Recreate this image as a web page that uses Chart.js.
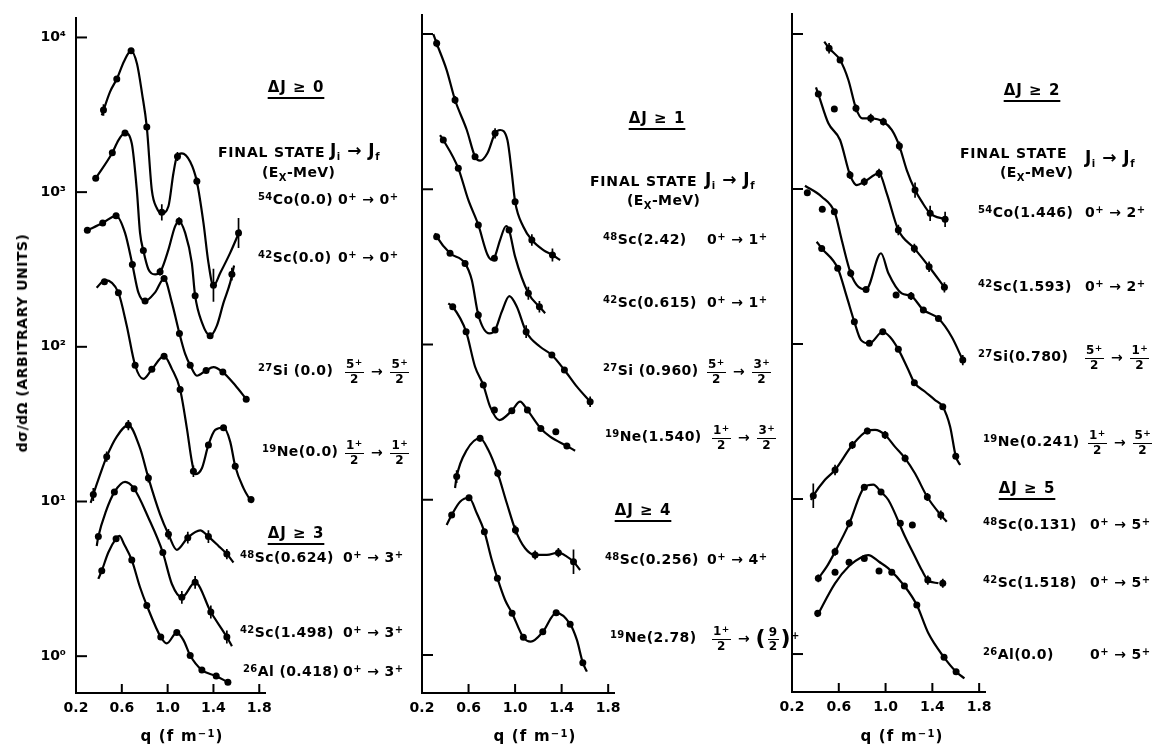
<!DOCTYPE html>
<html>
<head>
<meta charset="utf-8">
<script src="https://cdn.jsdelivr.net/npm/chart.js@4.4.1/dist/chart.umd.min.js"></script>
<style>
  body { margin: 0; background: #fff; }
  #wrap { position: relative; width: 1155px; height: 747px; overflow: hidden; background: #fff; }
  canvas { position: absolute; top: 0; }
  .lab { position: absolute; font-family: "DejaVu Sans", sans-serif; font-weight: bold; font-size: 14px; color: #000;
         white-space: nowrap; transform: translateY(-50%); letter-spacing: 0.4px; line-height: 16px; }
  .lab sup, .xt sup { font-size: 10px; position: relative; top: -0.45em; vertical-align: baseline; }
  .lab sub { font-size: 10px; position: relative; top: 0.35em; vertical-align: baseline; }
  .dj { transform: translate(-50%, -50%); font-size: 15px; letter-spacing: 1px;
        text-decoration: underline; text-decoration-thickness: 2px; text-underline-offset: 5px; }
  .fs { letter-spacing: 0.8px; }
  .jj { font-size: 17px; letter-spacing: 0.5px; }
  .fr { display: inline-flex; flex-direction: column; align-items: center; vertical-align: middle;
        font-size: 12px; line-height: 11px; margin: 0 2px; }
  .fr > span:first-child { border-bottom: 1.4px solid #000; padding: 0 1px 1px 1px; }
  .fr > span:last-child { padding-top: 1px; }
  .fr sup { font-size: 9px; top: -0.35em; }
  .par { font-size: 22px; font-weight: bold; vertical-align: middle; position: relative; top: -1px; }
  #ytitle { position: absolute; left: 22px; top: 343px; transform: translate(-50%, -50%) rotate(-90deg);
            font-family: "DejaVu Sans", sans-serif; font-weight: bold; font-size: 14px; letter-spacing: 0.5px; white-space: nowrap; }
  .xt { position: absolute; top: 736px; transform: translate(-50%, -50%); font-family: "DejaVu Sans", sans-serif;
        font-weight: bold; font-size: 15px; letter-spacing: 1.2px; white-space: nowrap; }
</style>
</head>
<body>
<div id="wrap">
  <canvas id="c1" width="400" height="747" style="left:0px"></canvas>
  <canvas id="c2" width="400" height="747" style="left:380px"></canvas>
  <canvas id="c3" width="405" height="747" style="left:750px"></canvas>
  <div id="ytitle">dσ/dΩ (ARBITRARY UNITS)</div>
  <div class="xt" style="left:182px">q (f m<sup>−1</sup>)</div>
  <div class="xt" style="left:535px">q (f m<sup>−1</sup>)</div>
  <div class="xt" style="left:902px">q (f m<sup>−1</sup>)</div>
</div>
<script>
// axis ticks
const xTicks = [0.2, 0.6, 1.0, 1.4, 1.8];
const yTicks = [1, 10, 100, 1000, 10000];
const yTickLabels = ['10⁰', '10¹', '10²', '10³', '10⁴'];

// each curve: fitted line [q, dσ/dΩ] and measured points [q, dσ/dΩ, error factor (0 = none)]
// panel 1
const co54_00_line = [[0.425,3130],[0.497,4450],[0.556,5390],[0.620,7030],[0.681,8190],[0.733,6730],[0.777,4320],[0.818,2640],[0.862,1030],[0.905,790],[0.949,730],[1.007,810],[1.050,1320],[1.080,1690],[1.124,1780],[1.197,1570],[1.255,1170],[1.313,630],[1.356,350],[1.400,248],[1.459,300],[1.546,405],[1.634,572]];
const co54_00_pts = [[0.44,3400,1.09],[0.556,5390,0],[0.681,8190,0],[0.818,2640,0],[0.949,740,1.13],[1.086,1700,1.07],[1.255,1175,1.06],[1.40,250,1.28],[1.619,545,1.25]];
const sc42_00_line = [[0.372,1228],[0.517,1796],[0.570,2163],[0.628,2415],[0.687,2061],[0.731,1033],[0.759,545],[0.788,419],[0.832,317],[0.891,294],[0.940,309],[1.007,425],[1.065,601],[1.100,648],[1.153,545],[1.211,349],[1.240,214],[1.299,144],[1.371,118],[1.430,137],[1.488,193],[1.546,260],[1.58,335]];
const sc42_00_pts = [[0.372,1228,0],[0.517,1796,0],[0.628,2415,0],[0.788,419,0],[0.934,306,1.06],[1.100,648,1.06],[1.240,214,0],[1.371,118,0],[1.561,295,1.1]];
const si27_00_line = [[0.299,567],[0.433,631],[0.550,703],[0.628,545],[0.692,341],[0.745,224],[0.803,198],[0.891,225],[0.969,276],[1.037,193],[1.103,122],[1.153,90],[1.197,76],[1.255,65],[1.336,70.4],[1.400,74],[1.482,68.7],[1.590,56.4],[1.686,45.9]];
const si27_00_pts = [[0.299,567,0],[0.433,631,0],[0.550,703,0],[0.692,341,0],[0.803,198,0],[0.969,276,0],[1.103,122,0],[1.197,76,0],[1.336,70.4,0],[1.482,68.7,0],[1.686,45.9,0]];
const ne19_00_line = [[0.380,241],[0.454,270],[0.570,224],[0.643,137],[0.716,76],[0.788,62],[0.862,71.5],[0.969,87],[1.037,72],[1.109,53],[1.168,29.7],[1.211,18.2],[1.240,15.0],[1.299,16.4],[1.356,23.2],[1.415,29.0],[1.488,30.0],[1.546,24.4],[1.590,16.9],[1.662,12.2],[1.736,9.8]];
const ne19_00_pts = [[0.448,263,0],[0.570,224,0],[0.716,76,0],[0.862,71.5,0],[0.969,87,0],[1.109,53,0],[1.225,15.7,1.09],[1.356,23.2,0],[1.488,30.0,0],[1.590,16.9,0],[1.728,10.3,0]];
const sc48_0624_line = [[0.328,9.8],[0.351,11.1],[0.410,14.9],[0.468,19.5],[0.556,26.3],[0.657,31.2],[0.759,22.1],[0.832,14.2],[0.934,8.25],[1.007,6.14],[1.080,4.87],[1.176,5.84],[1.284,6.51],[1.356,5.93],[1.444,5.16],[1.517,4.57],[1.575,4.03]];
const sc48_0624_pts = [[0.351,11.1,1.1],[0.468,19.5,1.08],[0.657,31.2,1.08],[0.832,14.2,1.07],[1.007,6.14,1.08],[1.176,5.84,1.09],[1.356,5.93,1.1],[1.517,4.57,1.08]];
const sc42_1498_line = [[0.381,5.16],[0.395,5.93],[0.462,8.67],[0.535,11.5],[0.628,13.4],[0.707,12.1],[0.832,7.85],[0.958,4.68],[1.037,2.93],[1.124,2.40],[1.240,3.0],[1.377,1.93],[1.517,1.33],[1.561,1.16]];
const sc42_1498_pts = [[0.395,5.93,0],[0.535,11.5,0],[0.707,12.1,0],[0.958,4.68,0],[1.124,2.40,1.1],[1.240,3.0,1.1],[1.377,1.93,1.1],[1.517,1.33,1.1]];
const al26_0418_line = [[0.395,3.16],[0.425,3.57],[0.482,4.68],[0.550,5.75],[0.579,5.99],[0.620,5.3],[0.687,4.18],[0.759,2.79],[0.818,2.13],[0.940,1.33],[0.992,1.21],[1.080,1.42],[1.138,1.27],[1.197,1.01],[1.299,0.813],[1.424,0.744],[1.526,0.678]];
const al26_0418_pts = [[0.425,3.57,0],[0.550,5.75,0],[0.687,4.18,0],[0.818,2.13,0],[0.940,1.33,0],[1.080,1.42,0],[1.197,1.01,0],[1.299,0.813,0],[1.424,0.744,0],[1.526,0.678,0]];
// panel 2
const sc48_242_line = [[0.297,10000],[0.326,8710],[0.412,5860],[0.484,3757],[0.585,2409],[0.656,1622],[0.699,1528],[0.762,1705],[0.828,2291],[0.871,2409],[0.934,2076],[0.972,1267],[1.000,832],[1.071,574],[1.144,471],[1.243,406],[1.321,377],[1.387,350]];
const sc48_242_pts = [[0.326,8710,1.06],[0.484,3757,1.06],[0.656,1622,0],[0.828,2291,1.08],[1.000,832,0],[1.144,471,1.09],[1.321,377,1.1]];
const sc42_615_line = [[0.355,2234],[0.383,2076],[0.512,1364],[0.598,853],[0.684,589],[0.762,380],[0.800,352],[0.822,362],[0.871,471],[0.923,580],[0.948,547],[1.000,368],[1.114,214],[1.209,175],[1.258,159]];
const sc42_615_pts = [[0.383,2076,0],[0.512,1364,0],[0.684,589,0],[0.822,359,0],[0.948,547,0],[1.114,214,1.1],[1.209,175,1.09]];
const si27_960_line = [[0.312,520],[0.326,495],[0.441,387],[0.570,333],[0.628,260],[0.684,155],[0.779,118],[0.828,124],[0.886,163],[0.951,205],[1.015,175],[1.095,121],[1.215,96.8],[1.316,85.6],[1.424,68.5],[1.531,53.5],[1.645,42.8]];
const si27_960_pts = [[0.326,495,0],[0.441,387,0],[0.570,333,0],[0.684,155,1.06],[0.828,124,0],[1.095,121,1.1],[1.316,85.6,0],[1.424,68.5,0],[1.645,42.8,1.08]];
const ne19_1540_line = [[0.426,184],[0.464,175],[0.579,121],[0.656,71.9],[0.727,54.8],[0.785,39.8],[0.865,32.6],[0.972,37.5],[1.043,42.8],[1.106,37.8],[1.221,28.8],[1.301,25.5],[1.445,22.2],[1.516,20.7]];
const ne19_1540_pts = [[0.464,175,0],[0.579,121,0],[0.727,54.8,0],[0.822,37.8,0],[0.972,37.5,0],[1.106,37.8,0],[1.221,28.8,0],[1.350,27.4,0],[1.445,22.2,0]];
const sc48_256_line = [[0.484,11.9],[0.498,14.1],[0.585,20.9],[0.699,24.9],[0.770,20.9],[0.851,14.8],[0.929,9.49],[1.003,6.38],[1.086,4.87],[1.172,4.41],[1.273,4.41],[1.372,4.56],[1.445,4.30],[1.502,3.99],[1.559,3.53]];
const sc48_256_pts = [[0.498,14.1,1.1],[0.699,24.9,1.05],[0.851,14.8,1.06],[1.003,6.38,1.07],[1.172,4.41,1.07],[1.372,4.56,1.07],[1.502,3.99,1.2]];
const ne19_278_line = [[0.412,6.88],[0.455,7.98],[0.527,9.72],[0.604,10.3],[0.671,8.18],[0.736,6.23],[0.800,4.09],[0.848,3.12],[0.914,2.26],[0.974,1.86],[1.071,1.30],[1.135,1.22],[1.238,1.41],[1.353,1.87],[1.473,1.58],[1.531,1.25],[1.582,0.892],[1.617,0.781]];
const ne19_278_pts = [[0.455,7.98,0],[0.604,10.3,0],[0.736,6.23,0],[0.848,3.12,0],[0.974,1.86,0],[1.071,1.30,0],[1.238,1.41,0],[1.353,1.87,0],[1.473,1.58,0],[1.582,0.892,0]];
// panel 3
const co54_1446_line = [[0.476,8920],[0.517,8090],[0.611,6790],[0.682,5050],[0.747,3316],[0.801,2858],[0.873,2858],[0.981,2718],[1.053,2404],[1.118,1893],[1.181,1326],[1.252,985],[1.310,828],[1.381,697],[1.509,638]];
const co54_1446_pts = [[0.517,8090,1.08],[0.611,6790,0],[0.747,3316,1.06],[0.873,2858,1.07],[0.981,2718,1.06],[1.118,1893,1.07],[1.252,985,1.12],[1.381,697,1.12],[1.509,638,1.12]];
const sc42_1593_line = [[0.405,4530],[0.425,4100],[0.511,2655],[0.611,2070],[0.696,1231],[0.753,1061],[0.818,1114],[0.944,1262],[1.010,938],[1.109,544],[1.246,414],[1.372,315],[1.503,232]];
const sc42_1593_pts = [[0.425,4100,0],[0.562,3281,0],[0.696,1231,1.06],[0.818,1114,1.06],[0.944,1262,1.07],[1.109,544,1.08],[1.246,414,1.07],[1.372,315,1.08],[1.503,232,1.08]];
const si27_780_line = [[0.311,1050],[0.454,892],[0.568,697],[0.625,469],[0.702,286],[0.767,234],[0.833,225],[0.961,385],[1.024,286],[1.138,212],[1.218,204],[1.323,166],[1.452,146],[1.566,111],[1.660,78.8]];
const si27_780_pts = [[0.331,947,0],[0.459,739,0],[0.562,714,0],[0.702,286,1.06],[0.833,225,0],[1.090,207,0],[1.218,204,1.06],[1.323,166,0],[1.452,146,0],[1.660,78.8,1.08]];
const ne19_241_line = [[0.411,457],[0.454,414],[0.591,308],[0.668,202],[0.733,139],[0.790,106],[0.861,101],[0.976,120],[1.038,111],[1.109,92.4],[1.195,68],[1.246,56.3],[1.338,49.2],[1.423,43.5],[1.489,39.4],[1.552,29.3],[1.600,18.9],[1.637,16.6]];
const ne19_241_pts = [[0.454,414,0],[0.591,308,0],[0.733,139,0],[0.861,101,0],[0.976,120,0],[1.109,92.4,0],[1.246,56.3,0],[1.489,39.4,0],[1.600,18.9,0]];
const sc48_131_line = [[0.363,9.86],[0.382,10.5],[0.482,13.3],[0.568,15.4],[0.716,22.3],[0.844,27.5],[0.910,27.9],[0.996,25.9],[1.081,21.7],[1.167,18.3],[1.252,14.6],[1.357,10.3],[1.472,7.88],[1.523,7.14]];
const sc48_131_pts = [[0.382,10.5,1.2],[0.568,15.4,1.08],[0.716,22.3,1.06],[0.844,27.5,1.05],[0.996,25.9,1.06],[1.167,18.3,1.06],[1.357,10.3,1.06],[1.472,7.88,1.07]];
const sc42_1518_line = [[0.425,3.08],[0.497,3.66],[0.568,4.57],[0.690,6.97],[0.818,11.9],[0.895,12.4],[0.961,11.1],[1.024,9.85],[1.167,5.71],[1.252,4.24],[1.309,3.48],[1.361,3.00],[1.452,2.86]];
const sc42_1518_pts = [[0.425,3.08,1.06],[0.568,4.57,1.06],[0.690,6.97,1.06],[0.818,11.9,0],[0.961,11.1,0],[1.126,6.97,0],[1.229,6.80,0],[1.361,3.00,1.07],[1.489,2.86,1.07]];
const al26_00_line = [[0.411,1.74],[0.568,2.86],[0.688,3.70],[0.790,4.2],[0.853,4.35],[0.944,3.94],[1.024,3.57],[1.161,2.75],[1.267,2.07],[1.366,1.36],[1.500,0.952],[1.603,0.769],[1.674,0.697]];
const al26_00_pts = [[0.420,1.83,1.05],[0.568,3.37,0],[0.688,3.91,0],[0.818,4.14,0],[0.944,3.43,0],[1.053,3.37,0],[1.161,2.75,0],[1.267,2.07,0],[1.500,0.952,0],[1.603,0.769,0]];

const panels = [
  { id: 'c1', left: 0, axisX: 76, right: 265, top: 14, bottom: 693, ymin: 0.578, ymax: 13280, yLabels: true,
    curves: [[co54_00_line, co54_00_pts], [sc42_00_line, sc42_00_pts], [si27_00_line, si27_00_pts], [ne19_00_line, ne19_00_pts],
             [sc48_0624_line, sc48_0624_pts], [sc42_1498_line, sc42_1498_pts], [al26_0418_line, al26_0418_pts]] },
  { id: 'c2', left: 380, axisX: 422, right: 614, top: 15, bottom: 693, ymin: 0.569, ymax: 13260, yLabels: false,
    curves: [[sc48_242_line, sc48_242_pts], [sc42_615_line, sc42_615_pts], [si27_960_line, si27_960_pts], [ne19_1540_line, ne19_1540_pts],
             [sc48_256_line, sc48_256_pts], [ne19_278_line, ne19_278_pts]] },
  { id: 'c3', left: 750, axisX: 792, right: 985, top: 14, bottom: 692, ymin: 0.569, ymax: 13460, yLabels: false,
    curves: [[co54_1446_line, co54_1446_pts], [sc42_1593_line, sc42_1593_pts], [si27_780_line, si27_780_pts], [ne19_241_line, ne19_241_pts],
             [sc48_131_line, sc48_131_pts], [sc42_1518_line, sc42_1518_pts], [al26_00_line, al26_00_pts]] }
];

const FONT = '"DejaVu Sans", sans-serif';

// short inward tick marks, like the original drawing
const inTicks = {
  id: 'inTicks',
  afterDraw(chart) {
    const { ctx, chartArea: a, scales: { x, y } } = chart;
    ctx.save();
    ctx.strokeStyle = '#000';
    ctx.lineWidth = 2;
    yTicks.forEach(v => {
      const py = y.getPixelForValue(v);
      ctx.beginPath(); ctx.moveTo(a.left, py); ctx.lineTo(a.left + 11, py); ctx.stroke();
    });
    xTicks.slice(1).forEach(v => {
      const px = x.getPixelForValue(v);
      ctx.beginPath(); ctx.moveTo(px, a.bottom); ctx.lineTo(px, a.bottom - 9); ctx.stroke();
    });
    ctx.restore();
  }
};

panels.forEach(p => {
  const canvas = document.getElementById(p.id);
  const W = canvas.width, H = canvas.height;
  const datasets = [];
  const bars = [];
  p.curves.forEach(([line, pts]) => {
    datasets.push({
      data: line.map(([x, y]) => ({ x, y })),
      borderColor: '#000', borderWidth: 2.2, pointRadius: 0,
      cubicInterpolationMode: 'monotone', fill: false
    });
    datasets.push({
      data: pts.map(([x, y]) => ({ x, y })),
      showLine: false, pointRadius: 3.5, pointBackgroundColor: '#000', pointBorderWidth: 0
    });
    pts.forEach(([x, y, e]) => {
      if (e > 0) bars.push({ x, y: y / e }, { x, y: y * e }, { x, y: null });
    });
  });
  datasets.push({ data: bars, borderColor: '#000', borderWidth: 1.7, pointRadius: 0, spanGaps: false, tension: 0 });

  new Chart(canvas, {
    type: 'line',
    data: { datasets },
    options: {
      responsive: false, animation: false, events: [],
      layout: { padding: { top: p.top, right: W - (p.right - p.left), left: 0, bottom: 0 } },
      plugins: { legend: { display: false }, tooltip: { enabled: false } },
      scales: {
        x: {
          type: 'linear', min: 0.2, max: 1.85,
          grid: { display: false, drawTicks: false },
          border: { display: true, color: '#000', width: 2 },
          ticks: { color: '#000', padding: 7, font: { family: FONT, size: 14, weight: 'bold' }, maxRotation: 0,
                   callback: v => v.toFixed(1) },
          afterBuildTicks: s => { s.ticks = xTicks.map(v => ({ value: v })); },
          afterFit: s => { s.height = H - p.bottom; }
        },
        y: {
          type: 'logarithmic', min: p.ymin, max: p.ymax,
          grid: { display: false, drawTicks: false },
          border: { display: true, color: '#000', width: 2 },
          ticks: { display: p.yLabels, color: '#000', padding: 10, font: { family: FONT, size: 14, weight: 'bold' },
                   callback: (v, i) => yTickLabels[i] },
          afterBuildTicks: s => { s.ticks = yTicks.map(v => ({ value: v })); },
          afterFit: s => { s.width = p.axisX - p.left; }
        }
      }
    },
    plugins: [inTicks]
  });
});

// text annotations
const fr = (n, d, plus = true) => `<span class="fr"><span>${n}${plus ? '<sup>+</sup>' : ''}</span><span>${d}</span></span>`;
const tr = (a, b) => `${a}<sup>+</sup> → ${b}<sup>+</sup>`;
const labels = [
  // panel 1
  [296, 87, 'ΔJ ≥ 0', 'dj'],
  [218, 152, 'FINAL STATE', 'fs'],
  [330, 151, 'J<sub>i</sub> → J<sub>f</sub>', 'jj'],
  [262, 173, '(E<sub>X</sub>-MeV)', ''],
  [258, 200, '<sup>54</sup>Co(0.0)', ''], [338, 200, tr('0', '0'), ''],
  [258, 258, '<sup>42</sup>Sc(0.0)', ''], [338, 258, tr('0', '0'), ''],
  [258, 371, '<sup>27</sup>Si (0.0)', ''], [343, 372, fr(5, 2) + ' → ' + fr(5, 2), ''],
  [262, 452, '<sup>19</sup>Ne(0.0)', ''], [343, 453, fr(1, 2) + ' → ' + fr(1, 2), ''],
  [296, 533, 'ΔJ ≥ 3', 'dj'],
  [240, 558, '<sup>48</sup>Sc(0.624)', ''], [343, 558, tr('0', '3'), ''],
  [240, 633, '<sup>42</sup>Sc(1.498)', ''], [343, 633, tr('0', '3'), ''],
  [243, 672, '<sup>26</sup>Al (0.418)', ''], [343, 672, tr('0', '3'), ''],
  // panel 2
  [657, 118, 'ΔJ ≥ 1', 'dj'],
  [590, 181, 'FINAL STATE', 'fs'],
  [705, 180, 'J<sub>i</sub> → J<sub>f</sub>', 'jj'],
  [627, 201, '(E<sub>X</sub>-MeV)', ''],
  [603, 240, '<sup>48</sup>Sc(2.42)', ''], [707, 240, tr('0', '1'), ''],
  [603, 303, '<sup>42</sup>Sc(0.615)', ''], [707, 303, tr('0', '1'), ''],
  [603, 371, '<sup>27</sup>Si (0.960)', ''], [705, 372, fr(5, 2) + ' → ' + fr(3, 2), ''],
  [605, 437, '<sup>19</sup>Ne(1.540)', ''], [710, 438, fr(1, 2) + ' → ' + fr(3, 2), ''],
  [643, 510, 'ΔJ ≥ 4', 'dj'],
  [605, 560, '<sup>48</sup>Sc(0.256)', ''], [707, 560, tr('0', '4'), ''],
  [610, 638, '<sup>19</sup>Ne(2.78)', ''],
  [710, 639, fr(1, 2) + ' → <span class="par">(</span>' + fr(9, 2, false) + '<span class="par">)</span><sup>+</sup>', ''],
  // panel 3
  [1032, 90, 'ΔJ ≥ 2', 'dj'],
  [960, 153, 'FINAL STATE', 'fs'],
  [1085, 158, 'J<sub>i</sub> → J<sub>f</sub>', 'jj'],
  [1000, 173, '(E<sub>X</sub>-MeV)', ''],
  [978, 213, '<sup>54</sup>Co(1.446)', ''], [1085, 213, tr('0', '2'), ''],
  [978, 287, '<sup>42</sup>Sc(1.593)', ''], [1085, 287, tr('0', '2'), ''],
  [978, 357, '<sup>27</sup>Si(0.780)', ''], [1083, 358, fr(5, 2) + ' → ' + fr(1, 2), ''],
  [983, 442, '<sup>19</sup>Ne(0.241)', ''], [1086, 443, fr(1, 2) + ' → ' + fr(5, 2), ''],
  [1027, 488, 'ΔJ ≥ 5', 'dj'],
  [983, 525, '<sup>48</sup>Sc(0.131)', ''], [1090, 525, tr('0', '5'), ''],
  [983, 583, '<sup>42</sup>Sc(1.518)', ''], [1090, 583, tr('0', '5'), ''],
  [983, 655, '<sup>26</sup>Al(0.0)', ''], [1090, 655, tr('0', '5'), '']
];
const wrap = document.getElementById('wrap');
labels.forEach(([x, y, html, cls]) => {
  const d = document.createElement('div');
  d.className = 'lab ' + cls;
  d.style.left = x + 'px';
  d.style.top = y + 'px';
  d.innerHTML = html;
  wrap.appendChild(d);
});
</script>
</body>
</html>
